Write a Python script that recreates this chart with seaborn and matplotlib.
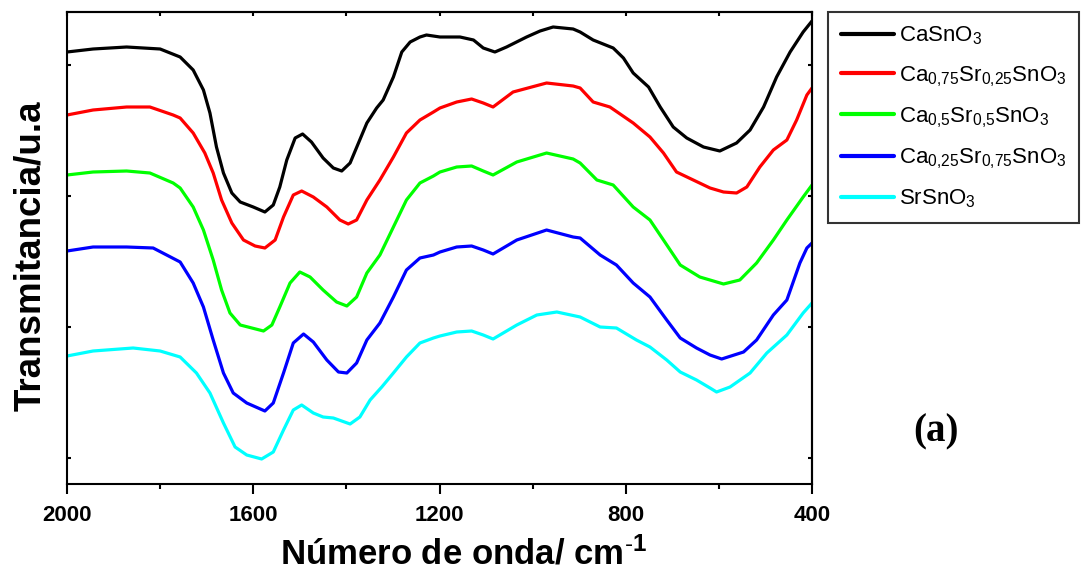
import numpy as np
import pandas as pd
import matplotlib
matplotlib.use("Agg")
import matplotlib.pyplot as plt
from matplotlib.ticker import MultipleLocator, FixedLocator, NullFormatter
import seaborn as sns

# ---------------- data ----------------
labels = [r"CaSnO$_3$",
          r"Ca$_{0{,}75}$Sr$_{0{,}25}$SnO$_3$",
          r"Ca$_{0{,}5}$Sr$_{0{,}5}$SnO$_3$",
          r"Ca$_{0{,}25}$Sr$_{0{,}75}$SnO$_3$",
          r"SrSnO$_3$"]
colors = ["#000000", "#FF0000", "#00FF00", "#0000FF", "#00FFFF"]

wn_casno3 = [2000, 1944, 1872, 1800, 1757, 1729, 1707, 1693, 1679, 1664,
             1646, 1628, 1600, 1575, 1557, 1543, 1528, 1510, 1494, 1475,
             1450, 1428, 1410, 1392, 1374, 1356, 1335, 1321, 1299, 1281,
             1263, 1242, 1228, 1199, 1156, 1127, 1106, 1081, 1056, 1013,
             984, 956, 913, 898, 870, 827, 805, 784, 751, 726,
             698, 669, 633, 598, 562, 533, 504, 476, 447, 419, 400]
t_casno3 = [432, 435, 437, 435, 427, 414, 394, 371, 337, 311,
            291, 282, 277, 272, 279, 297, 324, 346, 350, 342,
            326, 316, 313, 321, 341, 361, 376, 384, 407, 432,
            442, 447, 449, 447, 447, 444, 436, 432, 437, 447,
            453, 457, 455, 452, 444, 436, 426, 411, 397, 377,
            357, 346, 337, 333, 341, 354, 377, 407, 432, 452, 463]

wn_ca075 = [2000, 1944, 1872, 1822, 1772, 1757, 1729, 1704, 1686, 1668,
            1646, 1621, 1596, 1575, 1553, 1535, 1514, 1496, 1471, 1442,
            1414, 1396, 1378, 1356, 1328, 1299, 1271, 1242, 1213, 1199,
            1163, 1131, 1106, 1085, 1042, 970, 913, 898, 870, 834,
            784, 748, 719, 691, 655, 619, 590, 562, 540, 512,
            483, 454, 433, 411, 400]
t_ca075 = [369, 374, 377, 377, 369, 366, 351, 331, 311, 284,
           261, 244, 238, 236, 244, 267, 289, 293, 287, 277,
           264, 260, 264, 284, 304, 327, 351, 364, 372, 376,
           382, 385, 381, 377, 392, 401, 398, 396, 382, 377,
           361, 347, 331, 312, 304, 296, 292, 291, 297, 317,
           334, 344, 364, 389, 396]

wn_ca05 = [2000, 1944, 1872, 1822, 1772, 1757, 1729, 1707, 1686, 1668,
           1650, 1628, 1603, 1578, 1560, 1543, 1521, 1500, 1478, 1450,
           1421, 1399, 1378, 1356, 1328, 1299, 1271, 1242, 1213, 1199,
           1163, 1131, 1106, 1085, 1034, 970, 913, 898, 862, 827,
           784, 748, 719, 683, 641, 590, 555, 519, 483, 454,
           419, 400]
t_ca05 = [309, 312, 313, 311, 301, 296, 277, 254, 224, 194,
          171, 159, 156, 153, 159, 177, 201, 212, 207, 194,
          182, 178, 187, 211, 229, 257, 284, 301, 308, 312,
          317, 318, 313, 309, 322, 331, 325, 321, 304, 299,
          277, 264, 244, 219, 207, 200, 204, 221, 244, 264,
          287, 299]

wn_ca025 = [2000, 1944, 1872, 1815, 1757, 1729, 1707, 1686, 1664, 1643,
            1614, 1575, 1557, 1535, 1514, 1492, 1471, 1442, 1417, 1399,
            1378, 1356, 1328, 1299, 1271, 1242, 1213, 1199, 1163, 1131,
            1106, 1085, 1034, 970, 913, 898, 855, 820, 784, 748,
            712, 683, 648, 619, 594, 547, 519, 483, 454, 426,
            411, 400]
t_ca025 = [233, 237, 237, 236, 222, 201, 177, 144, 111, 91,
           81, 73, 81, 111, 141, 150, 142, 124, 112, 111,
           121, 144, 161, 187, 214, 226, 229, 232, 237, 238,
           234, 230, 244, 254, 247, 246, 229, 219, 201, 187,
           164, 146, 136, 129, 125, 132, 144, 169, 184, 221,
           236, 241]

wn_srsno3 = [2000, 1944, 1858, 1800, 1757, 1722, 1693, 1664, 1639, 1614,
             1582, 1557, 1535, 1514, 1496, 1471, 1450, 1428, 1392, 1371,
             1349, 1324, 1299, 1271, 1242, 1213, 1199, 1163, 1131, 1106,
             1085, 1034, 991, 948, 898, 855, 820, 777, 748, 712,
             683, 648, 619, 605, 576, 533, 497, 454, 419, 400]
t_srsno3 = [128, 133, 136, 133, 127, 111, 91, 61, 37, 29,
            25, 32, 54, 74, 79, 71, 67, 66, 60, 67,
            84, 97, 111, 127, 141, 146, 148, 152, 153, 149,
            145, 159, 169, 172, 167, 157, 156, 144, 137, 124,
            112, 104, 96, 92, 97, 111, 131, 149, 171, 181]

x_ticks = [2000, 1600, 1200, 800, 400]
y_ticks = [26, 157, 288, 419]

series = [(wn_casno3, t_casno3), (wn_ca075, t_ca075), (wn_ca05, t_ca05),
          (wn_ca025, t_ca025), (wn_srsno3, t_srsno3)]

# ---------------- style ----------------
sns.set_style("ticks")
plt.rcParams["font.family"] = ["Liberation Sans", "DejaVu Sans"]
plt.rcParams["mathtext.fontset"] = "custom"
plt.rcParams["mathtext.rm"] = "Liberation Sans"
plt.rcParams["mathtext.it"] = "Liberation Sans:italic"
plt.rcParams["mathtext.bf"] = "Liberation Sans:bold"
for k in ["text.color", "axes.labelcolor", "xtick.color", "ytick.color",
          "axes.edgecolor"]:
    plt.rcParams[k] = "black"
plt.rcParams["axes.linewidth"] = 1.5

fig = plt.figure(figsize=(10.81, 5.74), dpi=100)
ax = fig.add_axes([67 / 1081, 1 - 484 / 574, (812 - 67) / 1081, (484 - 12) / 574])

for (wn, t), lab, col in zip(series, labels, colors):
    df = pd.DataFrame({"wn": wn, "t": t})
    sns.lineplot(data=df, x="wn", y="t", ax=ax, color=col, lw=2.3,
                 label=lab, estimator=None, sort=True,
                 solid_joinstyle="round", solid_capstyle="round")

ax.set_xlim(2000, 400)
ax.set_ylim(0, 472)
ax.xaxis.set_major_locator(FixedLocator(x_ticks))
ax.xaxis.set_minor_locator(MultipleLocator(200))
ax.yaxis.set_major_locator(FixedLocator(y_ticks))
ax.yaxis.set_major_formatter(NullFormatter())
ax.tick_params(axis="x", which="major", direction="out", length=7, width=1.5,
               labelsize=16, pad=8)
ax.tick_params(axis="x", which="minor", direction="out", length=3.5, width=1.5)
ax.tick_params(axis="y", which="major", direction="in", length=3, width=1.5)
for lab in ax.get_xticklabels():
    lab.set_fontweight("bold")

top = ax.secondary_xaxis("top")
top.xaxis.set_major_locator(MultipleLocator(200))
top.tick_params(direction="in", length=3, width=1.5, labeltop=False)
right = ax.secondary_yaxis("right")
right.yaxis.set_major_locator(FixedLocator(y_ticks))
right.tick_params(direction="in", length=3, width=1.5, labelright=False)

ax.set_xlabel(r"Número de onda/ cm$^{\text{-}\mathbf{1}}$", fontsize=25,
              fontweight="bold")
ax.xaxis.set_label_coords(0.5315, -0.111)
ax.set_ylabel("Transmitancia/u.a", fontsize=26.5, fontweight="bold")
ax.yaxis.set_label_coords(-0.0255, 0.483)

leg = ax.legend(loc="upper left", bbox_to_anchor=(828 / 1081, 1 - 12 / 574),
                bbox_transform=fig.transFigure, borderaxespad=0,
                fontsize=16, frameon=True, fancybox=False, edgecolor="black",
                handlelength=2.4, handletextpad=0.2, labelspacing=0.75,
                borderpad=0.58)
leg.get_frame().set_linewidth(1.5)
for line in leg.get_lines():
    line.set_linewidth(3)

fig.text(936 / 1081, 1 - 432 / 574, "(a)", fontsize=28, fontweight="bold",
         family=["Liberation Serif"], ha="center", va="center")

fig.savefig("out.png", dpi=100)
